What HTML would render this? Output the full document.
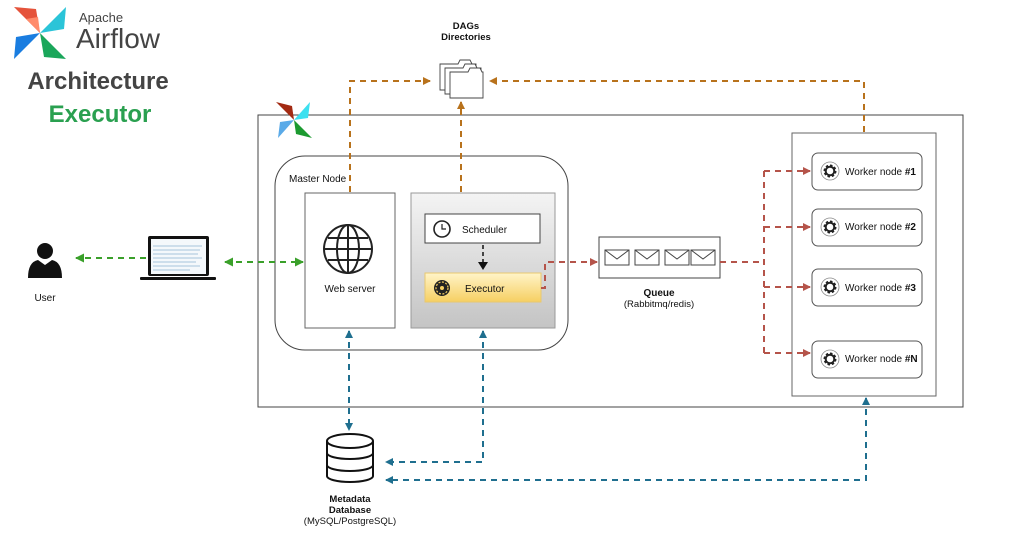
<!DOCTYPE html>
<html><head><meta charset="utf-8"><style>
html,body{margin:0;padding:0;background:#fff;}
svg{display:block;font-family:"Liberation Sans",Arial,sans-serif;}
</style></head><body>
<svg width="1016" height="560" viewBox="0 0 1016 560" xmlns="http://www.w3.org/2000/svg">
<defs>
<linearGradient id="gg" x1="0" y1="0" x2="0" y2="1"><stop offset="0" stop-color="#f4f4f4"/><stop offset="1" stop-color="#c4c4c4"/></linearGradient>
<linearGradient id="yg" x1="0" y1="0" x2="0" y2="1"><stop offset="0" stop-color="#fff4c8"/><stop offset="1" stop-color="#f6cf62"/></linearGradient>
<marker id="ao" markerWidth="8" markerHeight="8" refX="7" refY="4" orient="auto" markerUnits="userSpaceOnUse"><path d="M0,0 L8,4 L0,8z" fill="#b8721c"/></marker>
<marker id="ar" markerWidth="8" markerHeight="8" refX="7" refY="4" orient="auto" markerUnits="userSpaceOnUse"><path d="M0,0 L8,4 L0,8z" fill="#b5544a"/></marker>
<marker id="ag" markerWidth="9" markerHeight="9" refX="8" refY="4.5" orient="auto" markerUnits="userSpaceOnUse"><path d="M0,0 L9,4.5 L0,9z" fill="#3aa02a"/></marker>
<marker id="agr" markerWidth="9" markerHeight="9" refX="1" refY="4.5" orient="auto" markerUnits="userSpaceOnUse"><path d="M9,0 L0,4.5 L9,9z" fill="#3aa02a"/></marker>
<marker id="ab" markerWidth="8" markerHeight="8" refX="7" refY="4" orient="auto" markerUnits="userSpaceOnUse"><path d="M0,0 L8,4 L0,8z" fill="#1f6f8f"/></marker>
<marker id="abr" markerWidth="8" markerHeight="8" refX="1" refY="4" orient="auto" markerUnits="userSpaceOnUse"><path d="M8,0 L0,4 L8,8z" fill="#1f6f8f"/></marker>
<g id="gear"><circle r="9" fill="#fff" stroke="#888" stroke-width="0.8"/><circle r="5" fill="none" stroke="#222" stroke-width="3" stroke-dasharray="2.2 1.7"/><circle r="4.3" fill="none" stroke="#222" stroke-width="2"/></g>
</defs>

<!-- Logo -->
<g transform="translate(40,33)">
<path d="M0,0 L-26,-26 L-4,-24z" fill="#e5533b"/>
<path d="M0,0 L26,-26 L24,-4z" fill="#2bc4d8"/>
<path d="M0,0 L26,26 L4,24z" fill="#1aa65a"/>
<path d="M0,0 L-26,26 L-24,4z" fill="#1a7de0"/>
<path d="M0,0 L-14,-14 L-2,-16z" fill="#ff8b6b"/>
</g>
<text x="79" y="22" font-size="13" fill="#444">Apache</text>
<text x="76" y="48" font-size="28" fill="#444">Airflow</text>
<text x="98" y="89" font-size="24" font-weight="bold" fill="#444" text-anchor="middle">Architecture</text>
<text x="100" y="122" font-size="24" font-weight="bold" fill="#2aa050" text-anchor="middle">Executor</text>

<!-- big box -->
<rect x="258" y="115" width="705" height="292" fill="none" stroke="#444" stroke-width="1"/>
<g transform="translate(294,120)">
<path d="M0,0 L-18,-18 L-2,-14z" fill="#a32a12"/>
<path d="M0,0 L16,-18 L14,-2z" fill="#3ce0f0"/>
<path d="M0,0 L18,18 L2,14z" fill="#1c9a30"/>
<path d="M0,0 L-16,18 L-14,2z" fill="#5aaae8"/>
</g>

<!-- master node -->
<rect x="275" y="156" width="293" height="194" rx="30" fill="#fff" stroke="#444"/>
<text x="289" y="182" font-size="10" fill="#111">Master Node</text>

<rect x="305" y="193" width="90" height="135" fill="#fff" stroke="#666"/>
<g transform="translate(348,249)" fill="none" stroke="#222" stroke-width="2">
<circle r="24"/><ellipse rx="11" ry="24"/><line x1="-24" y1="0" x2="24" y2="0"/><line x1="-20" y1="-11" x2="20" y2="-11"/><line x1="-20" y1="11" x2="20" y2="11"/><line x1="0" y1="-24" x2="0" y2="24"/>
</g>
<text x="350" y="292" font-size="10" text-anchor="middle" fill="#111">Web server</text>

<rect x="411" y="193" width="144" height="135" fill="url(#gg)" stroke="#999"/>
<rect x="425" y="214" width="115" height="29" fill="#fff" stroke="#444"/>
<circle cx="442" cy="229" r="8" fill="#fff" stroke="#222" stroke-width="1.6"/>
<path d="M442,224 L442,229 L446,229" fill="none" stroke="#222" stroke-width="1.2"/>
<text x="462" y="233" font-size="10" fill="#111">Scheduler</text>
<line x1="483" y1="245" x2="483" y2="262" stroke="#111" stroke-width="1.5" stroke-dasharray="4 3"/>
<path d="M478,262 L488,262 L483,270z" fill="#111"/>
<rect x="425" y="273" width="116" height="29" fill="url(#yg)" stroke="#e8c870"/>
<g transform="translate(442,288)"><circle r="8" fill="#222"/><circle r="6" fill="none" stroke="#f6cf62" stroke-width="1.2" stroke-dasharray="2 1.5"/><circle r="2" fill="#f6cf62"/></g>
<text x="465" y="292" font-size="10" fill="#111">Executor</text>

<!-- queue -->
<rect x="599" y="237" width="121" height="41" fill="#fff" stroke="#444"/>
<g fill="#fff" stroke="#444" stroke-width="1">
<rect x="605" y="250" width="24" height="15"/><path d="M605,250 L617,259 L629,250" fill="none"/>
<rect x="635" y="250" width="24" height="15"/><path d="M635,250 L647,259 L659,250" fill="none"/>
<rect x="665" y="250" width="24" height="15"/><path d="M665,250 L677,259 L689,250" fill="none"/>
<rect x="691" y="250" width="24" height="15"/><path d="M691,250 L703,259 L715,250" fill="none"/>
</g>
<text x="659" y="296" font-size="10" font-weight="bold" text-anchor="middle" fill="#111">Queue</text>
<text x="659" y="307" font-size="9.5" text-anchor="middle" fill="#111">(Rabbitmq/redis)</text>

<!-- workers -->
<rect x="792" y="133" width="144" height="263" fill="#fff" stroke="#666"/>
<g font-size="10" fill="#111">
<rect x="812" y="153" width="110" height="37" rx="6" fill="#fff" stroke="#555"/><use href="#gear" x="830" y="171"/><text x="845" y="175">Worker node <tspan font-weight="bold">#1</tspan></text>
<rect x="812" y="209" width="110" height="37" rx="6" fill="#fff" stroke="#555"/><use href="#gear" x="830" y="227"/><text x="845" y="230">Worker node <tspan font-weight="bold">#2</tspan></text>
<rect x="812" y="269" width="110" height="37" rx="6" fill="#fff" stroke="#555"/><use href="#gear" x="830" y="287"/><text x="845" y="291">Worker node <tspan font-weight="bold">#3</tspan></text>
<rect x="812" y="341" width="110" height="37" rx="6" fill="#fff" stroke="#555"/><use href="#gear" x="830" y="359"/><text x="845" y="362">Worker node <tspan font-weight="bold">#N</tspan></text>
</g>

<!-- DAGs -->
<text x="466" y="29" font-size="9.5" font-weight="bold" text-anchor="middle" fill="#111">DAGs</text>
<text x="466" y="40" font-size="9.5" font-weight="bold" text-anchor="middle" fill="#111">Directories</text>
<g fill="#fff" stroke="#444" stroke-width="0.9">
<path d="M440,64 L458,64 L460,60 L470,60 L472,64 L476,64 L476,90 L440,90z"/>
<path d="M445,68 L463,68 L465,64 L475,64 L477,68 L481,68 L481,94 L445,94z"/>
<path d="M450,72 L468,72 L470,68 L480,68 L482,72 L483,72 L483,98 L450,98z"/>
</g>

<!-- user -->
<circle cx="45" cy="251" r="8" fill="#111"/>
<path d="M28,278 Q28,262 38,260 L45,265 L52,260 Q62,262 62,278z" fill="#111"/>
<text x="45" y="301" font-size="10" text-anchor="middle" fill="#111">User</text>

<!-- laptop -->
<rect x="148" y="236" width="61" height="40" fill="#111" rx="2"/>
<rect x="151" y="239" width="55" height="35" fill="#f4f8fb"/>
<g stroke="#8cb4d0" stroke-width="0.8">
<line x1="153" y1="246" x2="202" y2="246"/><line x1="153" y1="250" x2="200" y2="250"/><line x1="153" y1="254" x2="198" y2="254"/><line x1="153" y1="258" x2="202" y2="258"/><line x1="153" y1="262" x2="196" y2="262"/><line x1="153" y1="266" x2="200" y2="266"/><line x1="153" y1="270" x2="190" y2="270"/>
</g>
<rect x="140" y="277" width="76" height="3" fill="#111" rx="1"/>

<!-- connectors -->
<g fill="none" stroke-width="2" stroke-dasharray="6 5">
<path d="M350,192 L350,81 L430,81" stroke="#b8721c" marker-end="url(#ao)"/>
<path d="M461,192 L461,102" stroke="#b8721c" marker-end="url(#ao)"/>
<path d="M864,132 L864,81 L490,81" stroke="#b8721c" marker-end="url(#ao)"/>
<path d="M146,258 L76,258" stroke="#3aa02a" marker-end="url(#ag)"/>
<path d="M225,262 L303,262" stroke="#3aa02a" marker-start="url(#agr)" marker-end="url(#ag)"/>
<path d="M541,288 L545,288 L545,262 L597,262" stroke="#b5544a" marker-end="url(#ar)"/>
<path d="M720,262 L764,262" stroke="#b5544a"/>
<path d="M764,171 L764,353" stroke="#b5544a"/>
<path d="M764,171 L810,171" stroke="#b5544a" marker-end="url(#ar)"/>
<path d="M764,227 L810,227" stroke="#b5544a" marker-end="url(#ar)"/>
<path d="M764,287 L810,287" stroke="#b5544a" marker-end="url(#ar)"/>
<path d="M764,353 L810,353" stroke="#b5544a" marker-end="url(#ar)"/>
<path d="M349,331 L349,430" stroke="#1f6f8f" marker-start="url(#abr)" marker-end="url(#ab)"/>
<path d="M483,331 L483,462 L386,462" stroke="#1f6f8f" marker-start="url(#abr)" marker-end="url(#ab)"/>
<path d="M866,398 L866,480 L386,480" stroke="#1f6f8f" marker-start="url(#abr)" marker-end="url(#ab)"/>
</g>

<!-- DB -->
<g fill="#fff" stroke="#111" stroke-width="2">
<path d="M327,441 L327,476 A23,6 0 0 0 373,476 L373,441"/>
<ellipse cx="350" cy="441" rx="23" ry="7"/>
<path d="M327,453 A23,6 0 0 0 373,453" fill="none"/>
<path d="M327,465 A23,6 0 0 0 373,465" fill="none"/>
</g>
<text x="350" y="502" font-size="9.5" font-weight="bold" text-anchor="middle" fill="#111">Metadata</text>
<text x="350" y="513" font-size="9.5" font-weight="bold" text-anchor="middle" fill="#111">Database</text>
<text x="350" y="524" font-size="9.5" text-anchor="middle" fill="#111">(MySQL/PostgreSQL)</text>
</svg>
</body></html>
